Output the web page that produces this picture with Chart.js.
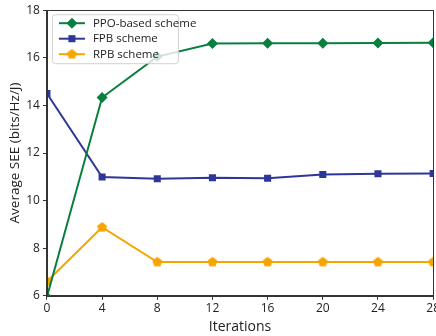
<!DOCTYPE html>
<html>
<head>
<meta charset="utf-8">
<script src="https://cdn.jsdelivr.net/npm/chart.js@4/dist/chart.umd.min.js"></script>
<style>
html,body{margin:0;padding:0;background:#fff;overflow:hidden;width:436px;height:336px;}
#wrap{position:absolute;left:0;top:0;width:442px;height:336px;}
</style>
</head>
<body>
<div id="wrap"><canvas id="c" width="442" height="336"></canvas></div>
<script>
const iterations = [0, 4, 8, 12, 16, 20, 24, 28];
const ppoValues = [5.95, 14.33, 16.05, 16.60, 16.61, 16.61, 16.62, 16.63];
const fpbValues = [14.50, 10.99, 10.92, 10.96, 10.94, 11.10, 11.13, 11.14];
const rpbValues = [6.60, 8.88, 7.42, 7.42, 7.42, 7.42, 7.42, 7.42];
const seriesNames = ['PPO-based scheme', 'FPB scheme', 'RPB scheme'];
const yTicks = [6, 8, 10, 12, 14, 16, 18];
const xTicks = [0, 4, 8, 12, 16, 20, 24, 28];

const FONT = '"Open Sans", "Noto Sans", sans-serif';

function pentagon(color, r) {
  const c = document.createElement('canvas');
  const s = Math.ceil(r * 2 + 2);
  c.width = s; c.height = s;
  const g = c.getContext('2d');
  g.fillStyle = color;
  g.beginPath();
  for (let i = 0; i < 5; i++) {
    const a = -Math.PI / 2 + i * 2 * Math.PI / 5;
    const px = s / 2 + r * Math.cos(a), py = s / 2 + r * Math.sin(a);
    if (i === 0) g.moveTo(px, py); else g.lineTo(px, py);
  }
  g.closePath(); g.fill();
  return c;
}

const colors = ['#087F3E', '#2E3799', '#F6A400'];
const pent = pentagon(colors[2], 5.2);

function pts(vals) { return iterations.map((x, i) => ({x: x, y: vals[i]})); }

const datasets = [
  {label: seriesNames[0], data: pts(ppoValues), borderColor: colors[0], backgroundColor: colors[0], pointStyle: 'rectRot', pointRadius: 5.5, pointBorderWidth: 0, borderWidth: 2},
  {label: seriesNames[1], data: pts(fpbValues), borderColor: colors[1], backgroundColor: colors[1], pointStyle: 'rect', pointRadius: 5, pointBorderWidth: 0, borderWidth: 2},
  {label: seriesNames[2], data: pts(rpbValues), borderColor: colors[2], backgroundColor: colors[2], pointStyle: pent, pointRadius: 5, pointBorderWidth: 0, borderWidth: 2}
];

const frameAndLegend = {
  id: 'frameAndLegend',
  afterDatasetsDraw(chart) {
    const ctx = chart.ctx, a = chart.chartArea;
    ctx.save();
    ctx.strokeStyle = '#333';
    ctx.lineWidth = 1;
    ctx.strokeRect(Math.round(a.left) + 0.5, Math.round(a.top) + 0.5, Math.round(a.right - a.left), Math.round(a.bottom - a.top));
    // legend
    const lx = a.left + 5, ly = a.top + 4, lw = 126, lh = 49;
    ctx.fillStyle = 'rgba(255,255,255,0.8)';
    ctx.strokeStyle = 'rgba(204,204,204,0.9)';
    ctx.beginPath();
    ctx.roundRect(lx + 0.5, ly + 0.5, lw, lh, 3);
    ctx.fill(); ctx.stroke();
    ctx.font = '11.5px ' + FONT;
    ctx.textBaseline = 'middle';
    chart.data.datasets.forEach((ds, i) => {
      const cy = ly + 9 + i * 15.5;
      ctx.strokeStyle = ds.borderColor;
      ctx.lineWidth = 2;
      ctx.beginPath(); ctx.moveTo(lx + 7, cy); ctx.lineTo(lx + 33, cy); ctx.stroke();
      const style = ds.pointStyle;
      ctx.fillStyle = ds.backgroundColor;
      Chart.helpers.drawPoint(ctx, {pointStyle: style, radius: ds.pointRadius, borderWidth: 0, rotation: 0}, lx + 20, cy);
      ctx.fillStyle = '#222';
      ctx.fillText(ds.label, lx + 41, cy + 0.5);
    });
    ctx.restore();
  }
};

new Chart(document.getElementById('c'), {
  type: 'line',
  data: {datasets: datasets},
  options: {
    responsive: false,
    animation: false,
    devicePixelRatio: 1,
    layout: {padding: {top: 5, left: 7, right: 0, bottom: 1}},
    plugins: {legend: {display: false}, tooltip: {enabled: false}},
    scales: {
      x: {
        type: 'linear', min: 0, max: 28,
        afterBuildTicks: s => { s.ticks = xTicks.map(v => ({value: v})); },
        grid: {drawOnChartArea: false, drawTicks: true, tickLength: 4, color: '#333'},
        border: {display: true, color: '#333'},
        ticks: {color: '#222', font: {family: FONT, size: 12}, padding: 2, maxRotation: 0},
        title: {display: true, text: 'Iterations', color: '#222', font: {family: FONT, size: 14}, padding: {top: 0, bottom: 0}}
      },
      y: {
        type: 'linear', min: 6, max: 18,
        afterBuildTicks: s => { s.ticks = yTicks.map(v => ({value: v})); },
        grid: {drawOnChartArea: false, drawTicks: true, tickLength: 4, color: '#333'},
        border: {display: true, color: '#333'},
        ticks: {color: '#222', font: {family: FONT, size: 12}, padding: 3},
        title: {display: true, text: 'Average SEE (bits/Hz/J)', color: '#222', font: {family: FONT, size: 13.5}, padding: {top: 0, bottom: 0}}
      }
    }
  },
  plugins: [frameAndLegend]
});
</script>
</body>
</html>
